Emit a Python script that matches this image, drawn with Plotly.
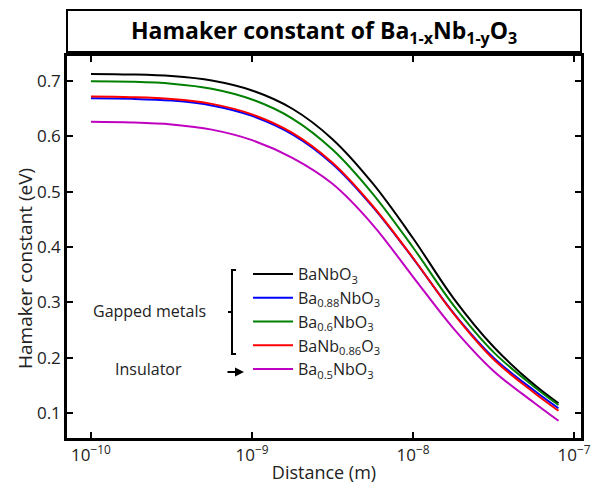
import plotly.graph_objects as go

# Distance (m)
distance = [1e-10, 1.78e-10, 3.16e-10, 5.62e-10, 1e-9, 1.78e-9, 3.16e-9,
            5.62e-9, 1e-8, 1.78e-8, 3.16e-8, 5.62e-8, 8e-8]

# Hamaker constant (eV)
ba_nbo3 = [0.7127, 0.7117, 0.7087, 0.7007, 0.6827, 0.6497, 0.5947,
           0.5147, 0.4157, 0.3077, 0.2197, 0.1517, 0.1175]
ba088_nbo3 = [0.6687, 0.6677, 0.6644, 0.6557, 0.6368, 0.6035, 0.5500,
              0.4725, 0.3795, 0.2810, 0.2000, 0.1410, 0.1085]
ba06_nbo3 = [0.6995, 0.6985, 0.6950, 0.6860, 0.6665, 0.6320, 0.5760,
             0.4960, 0.3990, 0.2950, 0.2100, 0.1480, 0.1145]
banb086_o3 = [0.6716, 0.6706, 0.6673, 0.6585, 0.6395, 0.6060, 0.5520,
              0.4740, 0.3800, 0.2800, 0.1970, 0.1370, 0.1040]
ba05_nbo3 = [0.6260, 0.6248, 0.6212, 0.6120, 0.5930, 0.5610, 0.5140,
             0.4400, 0.3460, 0.2530, 0.1760, 0.1190, 0.0860]

series_names = ["BaNbO<sub>3</sub>", "Ba<sub>0.88</sub>NbO<sub>3</sub>",
                "Ba<sub>0.6</sub>NbO<sub>3</sub>", "BaNb<sub>0.86</sub>O<sub>3</sub>",
                "Ba<sub>0.5</sub>NbO<sub>3</sub>"]
series_values = [ba_nbo3, ba088_nbo3, ba06_nbo3, banb086_o3, ba05_nbo3]
series_colors = ["#000000", "#0000FF", "#008000", "#FF0000", "#C000C0"]

x_tickvals = [1e-10, 1e-9, 1e-8, 1e-7]
x_ticktext = ["10<sup>−10</sup>", "10<sup>−9</sup>", "10<sup>−8</sup>", "10<sup>−7</sup>"]
y_tickvals = [0.1, 0.2, 0.3, 0.4, 0.5, 0.6, 0.7]

FONT = "Open Sans"
TXT = "#222222"

fig = go.Figure()
for i, (name, vals, col) in enumerate(zip(series_names, series_values, series_colors)):
    fig.add_trace(go.Scatter(x=distance, y=vals, mode="lines", name=name,
                             line=dict(color=col, width=2, shape="spline", smoothing=1.0),
                             legendgroup=f"g{i}"))

W, H = 610, 484
L, R, T, B = 67, 29, 56, 46
pw, ph = W - L - R, H - T - B

def px(xp):
    return (xp - L) / pw

def py(yp):
    return (H - B - yp) / ph

shapes = [
    # title box
    dict(type="rect", xref="paper", yref="paper", x0=0, x1=1, y0=py(52), y1=py(10),
         line=dict(color="black", width=2)),
    # bracket
    dict(type="line", xref="paper", yref="paper", x0=px(232), x1=px(232), y0=py(270), y1=py(354),
         line=dict(color="black", width=2)),
    dict(type="line", xref="paper", yref="paper", x0=px(231), x1=px(236), y0=py(270), y1=py(270),
         line=dict(color="black", width=2)),
    dict(type="line", xref="paper", yref="paper", x0=px(231), x1=px(236), y0=py(354), y1=py(354),
         line=dict(color="black", width=2)),
    dict(type="line", xref="paper", yref="paper", x0=px(228), x1=px(232), y0=py(312), y1=py(312),
         line=dict(color="black", width=2)),
]

annotations = [
    dict(text="<b>Hamaker constant of Ba<sub>1-x</sub>Nb<sub>1-y</sub>O<sub>3</sub></b>",
         xref="paper", yref="paper", x=0.5, y=py(31), showarrow=False,
         font=dict(family=FONT, size=23, color="black"), xanchor="center", yanchor="middle"),
    dict(text="Hamaker constant (eV)", xref="paper", yref="paper", x=px(25), y=py(269),
         showarrow=False, textangle=-90, font=dict(family=FONT, size=19, color=TXT),
         xanchor="center", yanchor="middle"),
    dict(text="Gapped metals", xref="paper", yref="paper", x=px(149), y=py(311),
         showarrow=False, font=dict(family=FONT, size=16, color=TXT),
         xanchor="center", yanchor="middle"),
    dict(text="Insulator", xref="paper", yref="paper", x=px(148), y=py(369),
         showarrow=False, font=dict(family=FONT, size=16, color=TXT),
         xanchor="center", yanchor="middle"),
    dict(text="", xref="paper", yref="paper", x=px(244), y=py(372), ax=-18, ay=0,
         showarrow=True, arrowhead=2, arrowsize=1, arrowwidth=1.8, arrowcolor="black"),
]

fig.update_layout(
    width=W, height=H,
    margin=dict(l=L, r=R, t=T, b=B),
    paper_bgcolor="white", plot_bgcolor="white",
    font=dict(family=FONT, size=16, color=TXT),
    shapes=shapes, annotations=annotations,
    legend=dict(x=px(248), y=py(257), xanchor="left", yanchor="top",
                bgcolor="rgba(0,0,0,0)", font=dict(family=FONT, size=16, color=TXT),
                tracegroupgap=0, itemwidth=40),
    showlegend=True,
)

fig.update_xaxes(type="log", range=[-10.149, -6.957], tickvals=x_tickvals, ticktext=x_ticktext,
                 showline=True, linecolor="black", linewidth=2.5, mirror="ticks",
                 ticks="inside", ticklen=6, tickwidth=2, tickcolor="black",
                 showgrid=False, zeroline=False, automargin=False,
                 tickfont=dict(family=FONT, size=17, color=TXT),
                 title=dict(text="Distance (m)", font=dict(family=FONT, size=18, color=TXT),
                            standoff=2))
fig.update_yaxes(range=[0.0548, 0.745], tickvals=y_tickvals,
                 showline=True, linecolor="black", linewidth=2.5, mirror="ticks",
                 ticks="inside", ticklen=6, tickwidth=2, tickcolor="black",
                 showgrid=False, zeroline=False, automargin=False,
                 tickfont=dict(family=FONT, size=17, color=TXT))

fig.write_html("out.html")
